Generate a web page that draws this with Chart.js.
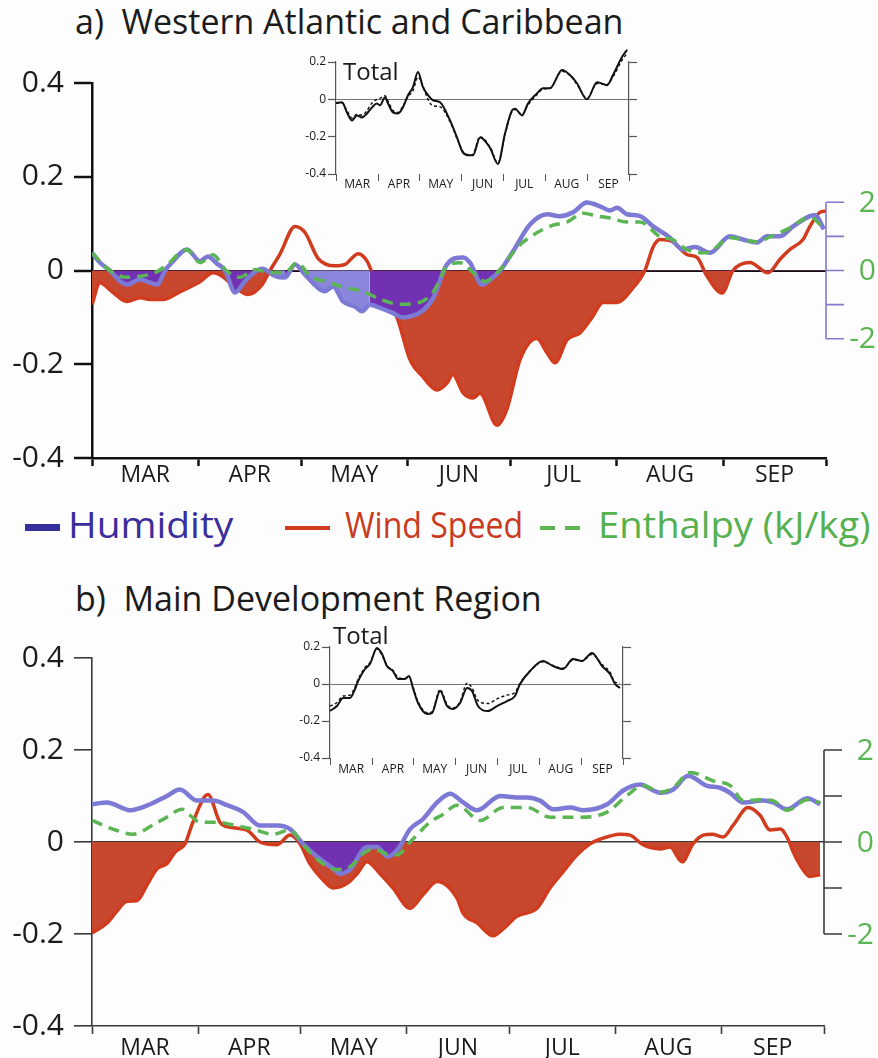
<!DOCTYPE html>
<html lang="en">
<head>
<meta charset="UTF-8">
<title>Humidity, Wind Speed and Enthalpy anomalies</title>
<script src="https://cdn.jsdelivr.net/npm/chart.js"></script>
<style>
  body { margin: 0; background: #fdfdfd; }
  #page { position: relative; width: 878px; height: 1058px; overflow: hidden; font-family: 'Open Sans', sans-serif; color: #1b1b1b; }
  canvas { position: absolute; }
  .title { position: absolute; font-size: 34px; line-height: 1; white-space: pre; }
  .total { position: absolute; font-size: 24px; line-height: 1; }
  .legend { position: absolute; top: 507px; font-size: 36px; line-height: 1; white-space: pre; transform-origin: left top; }
  .swatch { position: absolute; }
</style>
</head>
<body>
<div id="page">
  <div class="title" style="left:75px;top:4px">a)  Western Atlantic and Caribbean</div>
  <canvas id="mainA" style="left:0;top:50px" width="878" height="450"></canvas>
  <canvas id="insetA" style="left:290px;top:40px" width="350" height="160"></canvas>
  <div class="total" style="left:343px;top:59px">Total</div>

  <div class="swatch" style="left:25px;top:524px;width:35px;height:7px;background:#35309b"></div>
  <div class="legend" style="left:68px;color:#3a2d9c;transform:scaleX(1.08)">Humidity</div>
  <div class="swatch" style="left:285px;top:526px;width:45px;height:4px;background:#d13c1e"></div>
  <div class="legend" style="left:345px;color:#c93a1e;transform:scaleX(0.89)">Wind Speed</div>
  <div class="swatch" style="left:540px;top:526px;width:15px;height:4px;background:#5bb552"></div>
  <div class="swatch" style="left:565px;top:526px;width:15px;height:4px;background:#5bb552"></div>
  <div class="legend" style="left:598px;color:#55b04e;transform:scaleX(1.06)">Enthalpy (kJ/kg)</div>

  <div class="title" style="left:75px;top:581px">b)  Main Development Region</div>
  <canvas id="mainB" style="left:0;top:630px" width="878" height="428"></canvas>
  <canvas id="insetB" style="left:285px;top:610px" width="350" height="170"></canvas>
  <div class="total" style="left:333px;top:623px">Total</div>
</div>

<script>
    // x values are days since 1 March
    const monthLabels = ['MAR', 'APR', 'MAY', 'JUN', 'JUL', 'AUG', 'SEP'];
    const monthStarts = [0, 31, 61, 92, 122, 153, 184, 214];
    const mainTicks = [-0.4, -0.2, 0, 0.2, 0.4];
    const insetTicks = [-0.4, -0.2, 0, 0.2];
    const enthalpyTicks = [-2, -1, 0, 1, 2];
    const enthalpyTickLabels = ['-2', '', '0', '', '2'];

    // a) Western Atlantic and Caribbean
    const waWindDays = [0,2.3,5.8,10.2,14,16.9,20.7,25.7,31.5,35.3,37.9,41.7,45.5,49.6,51.9,54.8,59.2,62.1,65.9,70.8,73.8,77.6,80.2,82.5,85.4,88.9,92.7,96.5,100.6,103.5,105.2,108.2,111.1,113.1,118.1,121,124.8,129.7,132.7,135,138.5,142.3,145.8,149,153.1,157.4,161.2,163.6,165.6,169.1,173.5,176.4,179.3,183.7,186.9,191.8,197.1,200.6,203.5,207.3,209.3,212.2,214];
    const waWind = [-0.073,-0.026,-0.045,-0.066,-0.058,-0.062,-0.062,-0.045,-0.024,-0.005,-0.012,-0.035,-0.051,-0.03,0,0.035,0.094,0.081,0.026,0.01,0.013,0.036,0.02,-0.02,-0.06,-0.1,-0.19,-0.227,-0.255,-0.24,-0.222,-0.261,-0.272,-0.262,-0.33,-0.295,-0.19,-0.145,-0.176,-0.197,-0.148,-0.133,-0.1,-0.068,-0.068,-0.04,0,0.05,0.066,0.062,0.034,0.028,-0.012,-0.048,0,0.017,-0.005,0.024,0.045,0.066,0.094,0.124,0.127];
    const waHumDays = [0,2.3,5.2,8.2,10.2,14,16.9,19,21.3,23.3,27.7,31.5,33.8,36.4,38.8,41.7,44.6,47.5,49.6,53.4,56.3,59.2,62.1,65.9,67.9,70.3,73.2,76.7,78.7,81,84,87.5,90.4,93.3,96.2,99.4,103.5,108.2,110.2,113.7,116,119,122.7,127.7,132.7,136.4,140.2,144.3,148.1,151,153.1,156,159.8,163.6,168.5,172.3,175.8,180.2,186,189.8,193.9,196.8,200.6,204.4,209.3,210.8,213.4];
    const waHum = [0.038,0.017,0,-0.023,-0.03,-0.019,-0.026,-0.03,0,0.017,0.045,0.02,0.03,0.015,0,-0.047,-0.023,-0.003,0.004,-0.012,-0.015,0.013,-0.009,-0.037,-0.044,-0.034,-0.066,-0.077,-0.087,-0.073,-0.08,-0.09,-0.1,-0.097,-0.087,-0.06,0.013,0.028,0.017,-0.03,-0.02,0,0.04,0.098,0.12,0.116,0.124,0.145,0.137,0.128,0.134,0.12,0.116,0.094,0.07,0.045,0.05,0.038,0.073,0.066,0.06,0.073,0.073,0.094,0.116,0.118,0.088];
    const waEnthDays = [0,5.2,10.2,14,18.4,21.3,27.7,31.5,35.3,38.8,43.1,47.5,51.9,56.3,59.8,63.6,67.9,72.3,79.6,84,89.8,95.6,99.4,103.5,107.3,111.1,114.6,119,123.9,128.6,134.4,138.5,143.1,147.2,151,156,159.8,165.6,169.4,173.5,179.3,186,193.9,197.7,203.5,209.3,213.7];
    const waEnth = [0.52,0,-0.2,-0.17,-0.06,0.12,0.61,0.23,0.46,0.03,-0.2,0.03,-0.06,-0.06,0.23,-0.17,-0.32,-0.46,-0.64,-0.84,-0.99,-0.93,-0.64,0.12,0.23,-0.06,-0.32,0.03,0.67,1.04,1.33,1.42,1.68,1.6,1.54,1.42,1.42,0.99,0.9,0.61,0.52,0.96,0.84,0.99,1.25,1.57,1.19];
    const waTotalDays = [0,4.4,8,11.7,15.3,19,22.6,26.3,29.9,32.1,35.8,38,41.6,45.3,48.9,52.6,56.2,59.9,63.5,67.2,70.9,76,83.3,88.4,92.8,97.9,100,105.2,112.5,118.3,123.4,128.6,130.8,135.9,140.2,146.8,151.2,156.3,165.1,170.9,176,183.3,190.7,198,202.3,208.9,212.6];
    const waTotal = [-0.02,-0.016,-0.07,-0.113,-0.086,-0.097,-0.076,-0.043,-0.022,-0.032,0.011,-0.022,-0.07,-0.076,-0.043,0.022,0.065,0.146,0.065,0.022,-0.005,-0.016,-0.113,-0.205,-0.286,-0.3,-0.3,-0.205,-0.26,-0.346,-0.185,-0.059,-0.05,-0.086,-0.022,0.032,0.059,0.059,0.157,0.13,0.086,0,0.092,0.076,0.13,0.227,0.265];
    const waTotalDashed = [-0.02,-0.02,-0.06,-0.1,-0.08,-0.085,-0.06,-0.02,0,0.005,0.02,-0.01,-0.06,-0.07,-0.035,0.015,0.045,0.12,0.07,0,-0.035,-0.04,-0.12,-0.21,-0.28,-0.3,-0.295,-0.2,-0.255,-0.34,-0.19,-0.065,-0.055,-0.08,-0.03,0.025,0.055,0.06,0.15,0.128,0.08,0.005,0.085,0.08,0.12,0.21,0.245];

    // b) Main Development Region
    const mdWindDays = [0,4.4,7.3,10.2,13.2,16.1,19,21.9,24.3,27.2,29.5,33.9,37.4,40.4,45.3,49.1,54.1,57.9,60.8,63.7,67.5,70.5,74.6,77.5,80.4,84.2,88,93,96.8,100.9,106.7,108.5,112.6,117.3,120.2,124.3,130.1,133.9,137.7,141.8,145.6,148.5,154.4,157.3,161.1,166.1,169,172.5,175.7,178.7,181.3,184.5,187.4,191.8,195.3,198.2,201.2,203.5,205,207,209.9,212.9];
    const mdWind = [-0.198,-0.176,-0.15,-0.129,-0.127,-0.093,-0.058,-0.047,-0.022,-0.004,0.043,0.103,0.043,0.032,0.026,0,-0.006,0.015,-0.004,-0.047,-0.082,-0.1,-0.09,-0.069,-0.043,-0.069,-0.1,-0.144,-0.114,-0.086,-0.122,-0.155,-0.176,-0.204,-0.189,-0.161,-0.144,-0.1,-0.065,-0.028,-0.004,0.006,0.017,0.015,-0.006,-0.015,-0.011,-0.043,-0.004,0.015,0.017,0.011,0.036,0.075,0.058,0.026,0.028,0.006,-0.022,-0.05,-0.075,-0.071];
    const mdHumDays = [0,4.4,11.1,17,21.9,25.7,30.7,35.4,39.5,44.2,49.1,54.1,57.9,61.7,65.8,70.5,72.5,75.4,80.4,83.3,86.5,89.5,93,96.8,100.9,104.7,108.5,112.6,119.3,124.3,127.2,131,134.8,139.8,143.6,150.6,155.3,160.2,166.1,169.9,174.3,179.8,183.6,186.5,190.4,196.2,199.1,203.2,209.1,212.9];
    const mdHum = [0.082,0.086,0.069,0.082,0.1,0.114,0.09,0.09,0.08,0.065,0.036,0.036,0.028,-0.004,-0.032,-0.058,-0.069,-0.06,-0.011,-0.011,-0.032,-0.015,0.028,0.05,0.086,0.105,0.086,0.069,0.1,0.097,0.097,0.09,0.071,0.075,0.069,0.082,0.112,0.125,0.107,0.114,0.144,0.122,0.118,0.107,0.086,0.09,0.086,0.071,0.095,0.082];
    const mdEnthDays = [0,6.1,12,17.8,21.9,26.3,28.7,31.6,36.5,41.2,47.1,52.9,57.9,61.7,66.7,71.6,75.4,79.2,82.2,86.3,89.2,93,98.8,102.6,106.7,113.5,120.2,127.2,133.9,142.7,150.6,156.4,161.1,166.1,169.9,174.9,181.6,186.5,190.4,195.3,199.1,203.2,209.1,212.9];
    const mdEnth = [0.47,0.28,0.17,0.37,0.54,0.71,0.58,0.43,0.43,0.37,0.28,0.17,0.26,-0.06,-0.43,-0.6,-0.54,-0.26,-0.15,-0.26,-0.28,0,0.43,0.6,0.8,0.47,0.75,0.75,0.54,0.54,0.65,1.01,1.23,1.08,1.18,1.51,1.33,1.23,0.9,0.92,0.9,0.69,0.92,0.86];
    const mdTotalDays = [0,5.1,9.5,14.6,18.3,20.5,25.6,29.2,34.3,38,41.6,46,49.7,54.8,57.7,60.6,64.3,70.9,74.5,80.4,85.5,89.8,95,100.1,103.7,108.1,115.4,122,129.3,135.1,138.8,146.1,155.6,162.9,170.2,177.5,184.1,191.4,198.7,204.5,208.2,211.8];
    const mdTotal = [-0.146,-0.119,-0.076,-0.076,-0.027,0.016,0.081,0.108,0.195,0.162,0.097,0.07,0.027,0.027,0.043,-0.022,-0.103,-0.162,-0.157,-0.038,-0.119,-0.135,-0.103,-0.022,-0.038,-0.119,-0.146,-0.119,-0.092,-0.065,0,0.07,0.124,0.097,0.081,0.135,0.124,0.168,0.097,0.054,0,-0.022];
    const mdTotalDashed = [-0.12,-0.1,-0.065,-0.06,-0.015,0.025,0.09,0.115,0.19,0.155,0.1,0.075,0.035,0.03,0.04,-0.015,-0.095,-0.155,-0.15,-0.03,-0.11,-0.13,-0.095,0.005,-0.02,-0.09,-0.105,-0.08,-0.06,-0.045,0.005,0.07,0.12,0.1,0.085,0.13,0.125,0.16,0.105,0.065,0.01,0.005];

    const RED = '#d13c1e', RED_FILL = '#c8482f';
    const HUM = '#7d7ad6', HUM_DARK = '#7231b3', HUM_LIGHT = '#8986dc';
    const GREEN = '#5bb552';

    Chart.defaults.font.family = "'Open Sans', sans-serif";
    Chart.defaults.color = '#1b1b1b';

    const toPoints = (days, vals) => days.map((d, i) => ({x: d, y: vals[i]}));
    const monthMids = monthStarts.slice(0, -1).map((s, i) => (s + monthStarts[i + 1]) / 2);
    const monthTickValues = [...monthStarts, ...monthMids].sort((a, b) => a - b);

    function valueAt(days, vals, d) {
        for (let i = 1; i < days.length; i++) {
            if (d <= days[i]) {
                const t = (d - days[i - 1]) / (days[i] - days[i - 1]);
                return vals[i - 1] + t * (vals[i] - vals[i - 1]);
            }
        }
        return vals[vals.length - 1];
    }

    function monthAxis(o) {
        return {
            type: 'linear', min: 0, max: 214,
            afterBuildTicks: s => { s.ticks = monthTickValues.map(v => ({value: v})); },
            afterFit: s => { s.height = o.height; },
            border: {display: o.border, color: o.color, width: o.width},
            grid: {
                drawOnChartArea: false, tickLength: o.tick, tickWidth: o.width,
                tickColor: c => monthStarts.includes(c.tick.value) ? o.color : 'transparent'
            },
            ticks: {
                autoSkip: false, maxRotation: 0, padding: o.pad, font: {size: o.font},
                callback: v => { const i = monthMids.indexOf(v); return i >= 0 ? monthLabels[i] : ''; }
            }
        };
    }

    function valueAxis(o) {
        return {
            min: o.ticks[0], max: o.ticks[o.ticks.length - 1], z: 1,
            afterBuildTicks: s => { s.ticks = o.ticks.map(v => ({value: v})); },
            afterFit: s => { s.width = o.width; },
            border: {color: o.color, width: o.lw},
            grid: {
                tickLength: o.tick, tickWidth: o.lw, tickColor: o.color,
                color: c => c.tick.value === 0 ? o.zero : 'transparent', lineWidth: o.zeroWidth
            },
            ticks: {padding: o.pad, font: {size: o.font}, callback: v => v === 0 ? '0' : v.toFixed(1)}
        };
    }

    // partial right axis for enthalpy, drawn through the hidden y2 scale
    const enthalpyAxis = {
        id: 'enthalpyAxis',
        afterDraw(chart, args, o) {
            const s = chart.scales.y2, x = chart.chartArea.right, ctx = chart.ctx;
            ctx.save();
            ctx.strokeStyle = o.color;
            ctx.lineWidth = o.width;
            ctx.beginPath();
            ctx.moveTo(x, s.getPixelForValue(enthalpyTicks[enthalpyTicks.length - 1]));
            ctx.lineTo(x, s.getPixelForValue(enthalpyTicks[0]));
            enthalpyTicks.forEach(v => {
                const y = s.getPixelForValue(v);
                ctx.moveTo(x, y);
                ctx.lineTo(x + o.tick, y);
            });
            ctx.stroke();
            ctx.fillStyle = GREEN;
            ctx.font = "30px 'Open Sans'";
            ctx.textAlign = 'right';
            ctx.textBaseline = 'middle';
            enthalpyTickLabels.forEach((t, i) => {
                if (t) ctx.fillText(t, x + 50, s.getPixelForValue(enthalpyTicks[i]) + 1);
            });
            ctx.restore();
        }
    };

    function mainChart(id, d) {
        return new Chart(document.getElementById(id), {
            type: 'line',
            data: {
                datasets: [
                    {
                        label: 'Enthalpy (kJ/kg)', data: toPoints(d.enthDays, d.enth), yAxisID: 'y2', order: 0,
                        borderColor: GREEN, borderWidth: 3.5, borderDash: [11, 7], fill: false
                    },
                    {
                        label: 'Humidity', data: toPoints(d.humDays, d.hum), order: 1,
                        borderColor: HUM, borderWidth: 4.5, backgroundColor: HUM_DARK,
                        fill: {target: 'origin', above: 'transparent', below: HUM_DARK},
                        segment: {
                            backgroundColor: c => {
                                const mid = (c.p0.parsed.x + c.p1.parsed.x) / 2;
                                const below = c.p0.parsed.y <= 0 && c.p1.parsed.y <= 0;
                                return below && valueAt(d.windDays, d.wind, mid) > 0 ? HUM_LIGHT : undefined;
                            }
                        }
                    },
                    {
                        label: 'Wind Speed', data: toPoints(d.windDays, d.wind), order: 2,
                        borderColor: RED, borderWidth: 3.5, backgroundColor: RED_FILL,
                        fill: {target: 'origin', above: 'transparent', below: RED_FILL}
                    }
                ]
            },
            options: {
                responsive: false,
                animation: false,
                layout: {padding: {top: d.padTop, right: d.padRight, left: 0, bottom: 0}},
                elements: {point: {radius: 0}, line: {cubicInterpolationMode: 'monotone'}},
                plugins: {
                    legend: {display: false},
                    tooltip: {enabled: false},
                    enthalpyAxis: {color: d.rightColor, width: 1.6, tick: 18}
                },
                scales: {
                    x: monthAxis({height: d.xHeight, border: true, color: d.axisColor, width: d.axisWidth, tick: 8, pad: d.xPad, font: 23}),
                    y: valueAxis({ticks: mainTicks, width: 92, color: d.axisColor, lw: d.axisWidth, tick: 18,
                                  zero: d.axisColor, zeroWidth: d.zeroWidth, pad: 10, font: 30}),
                    y2: {display: false, min: -d.enthRange, max: d.enthRange}
                }
            },
            plugins: [enthalpyAxis]
        });
    }

    function insetChart(id, d) {
        return new Chart(document.getElementById(id), {
            type: 'line',
            data: {
                datasets: [
                    {data: toPoints(d.days, d.dashed), borderColor: '#111', borderWidth: 1.4, borderDash: [3, 2.5], clip: false},
                    {data: toPoints(d.days, d.solid), borderColor: '#111', borderWidth: 2, clip: false}
                ]
            },
            options: {
                responsive: false,
                animation: false,
                layout: {padding: {top: d.padTop, right: d.padRight, left: 0, bottom: 0}},
                elements: {point: {radius: 0}, line: {cubicInterpolationMode: 'monotone'}},
                plugins: {legend: {display: false}, tooltip: {enabled: false}},
                scales: {
                    x: monthAxis({height: d.xHeight, border: false, color: '#555', width: 1, tick: 7, pad: d.xPad, font: 12}),
                    y: valueAxis({ticks: insetTicks, width: d.yWidth, color: '#555', lw: 1.2, tick: 8,
                                  zero: '#777', zeroWidth: 1, pad: 2, font: 12}),
                    yr: {
                        position: 'right', min: insetTicks[0], max: insetTicks[insetTicks.length - 1],
                        afterBuildTicks: s => { s.ticks = insetTicks.map(v => ({value: v})); },
                        afterFit: s => { s.width = 8; },
                        border: {color: '#555', width: 1.2},
                        grid: {drawOnChartArea: false, tickLength: 8, tickColor: '#555', tickWidth: 1.2},
                        ticks: {display: false}
                    }
                }
            }
        });
    }

    mainChart('mainA', {
        windDays: waWindDays, wind: waWind, humDays: waHumDays, hum: waHum, enthDays: waEnthDays, enth: waEnth,
        enthRange: 5.5, padTop: 33, padRight: 52, xHeight: 42, xPad: -4,
        axisColor: '#111', axisWidth: 2.5, zeroWidth: 2, rightColor: '#7f7cd0'
    });
    mainChart('mainB', {
        windDays: mdWindDays, wind: mdWind, humDays: mdHumDays, hum: mdHum, enthDays: mdEnthDays, enth: mdEnth,
        enthRange: 4, padTop: 24, padRight: 54, xHeight: 32, xPad: 1,
        axisColor: '#3a3a3a', axisWidth: 1.6, zeroWidth: 1.6, rightColor: '#3a3a3a'
    });
    insetChart('insetA', {days: waTotalDays, solid: waTotal, dashed: waTotalDashed,
        padTop: 22, padRight: 3, xHeight: 26, xPad: -4, yWidth: 46});
    insetChart('insetB', {days: mdTotalDays, solid: mdTotal, dashed: mdTotalDashed,
        padTop: 37, padRight: 4, xHeight: 22, xPad: -3, yWidth: 45});
</script>
</body>
</html>
